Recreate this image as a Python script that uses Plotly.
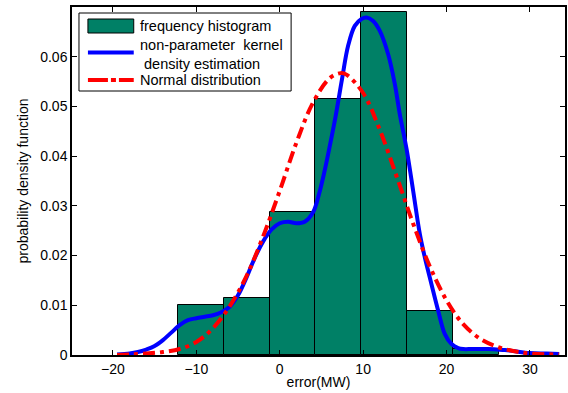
import plotly.graph_objects as go

# Histogram (bin edges and densities)
bin_edges = [-12.2, -6.71, -1.22, 4.27, 9.76, 15.25, 20.74, 26.23]
hist_density = [0.0100, 0.0114, 0.0288, 0.0514, 0.0690, 0.0088, 0.0013]

# Kernel density estimate
kde_x = [-19.5, -18, -17, -16, -15, -14, -13, -12, -11, -10, -9, -8, -7, -6, -5, -4, -3, -2, -1,
         0, 1, 2, 3, 4, 4.7, 5.3, 6, 6.7, 7.5, 8.2, 9, 9.8, 10.4, 11.2, 12, 13, 13.8, 14.4, 15.2,
         16, 16.8, 17.4, 18.2, 19, 19.8, 20.6, 21.4, 22, 23, 24, 25, 26, 27, 28, 30, 32, 33.5]
kde_y = [0.0001, 0.0003, 0.0006, 0.0011, 0.0018, 0.0030, 0.0045, 0.0060, 0.0070, 0.0074, 0.0077,
         0.0080, 0.0086, 0.0097, 0.0120, 0.0155, 0.0195, 0.0228, 0.0252, 0.0265, 0.0268, 0.0265,
         0.0268, 0.0287, 0.0323, 0.0364, 0.0420, 0.0480, 0.0558, 0.0622, 0.0662, 0.0676, 0.0679,
         0.0672, 0.0652, 0.0605, 0.0545, 0.0484, 0.0415, 0.0330, 0.0243, 0.0196, 0.0142, 0.0089,
         0.0042, 0.0022, 0.0014, 0.0012, 0.0012, 0.0012, 0.0012, 0.0011, 0.0010, 0.0008, 0.0004,
         0.0003, 0.0002]

# Normal distribution fit
norm_x = [-19.5, -18, -16, -14, -12, -10, -8, -6, -4, -2, 0, 2, 4, 6, 7.3, 8, 10, 12, 14, 16, 18,
          20, 22, 24, 26, 28, 30, 33.5]
norm_y = [0.0000, 0.0001, 0.0003, 0.0006, 0.0012, 0.0026, 0.0054, 0.0098, 0.0158, 0.0238, 0.0330,
          0.0427, 0.0508, 0.0557, 0.0567, 0.0564, 0.0527, 0.0453, 0.0360, 0.0264, 0.0178, 0.0110,
          0.0062, 0.0033, 0.0017, 0.0008, 0.0003, 0.0001]

x_ticks = [-20, -10, 0, 10, 20, 30]
y_ticks = [0, 0.01, 0.02, 0.03, 0.04, 0.05, 0.06]
y_tick_labels = ["0", "0.01", "0.02", "0.03", "0.04", "0.05", "0.06"]

legend_labels = ["frequency histogram", "non-parameter  kernel<br> density estimation",
                 "Normal distribution"]

HIST_COLOR = "#008066"
KDE_COLOR = "#0000ff"
NORM_COLOR = "#ff0000"
NORM_DASH = "12px,5px,4px,5px"

centers = [(a + b) / 2 for a, b in zip(bin_edges[:-1], bin_edges[1:])]
widths = [b - a for a, b in zip(bin_edges[:-1], bin_edges[1:])]

font = "Liberation Sans, Arial, sans-serif"

W, H = 568, 393
ML, MR, MT, MB = 72, 1, 7, 38
PW, PH = W - ML - MR, H - MT - MB


def px(x):
    return (x - ML) / PW


def py(y):
    return (H - MB - y) / PH


fig = go.Figure()
fig.add_trace(go.Bar(x=centers, y=hist_density, width=widths, name=legend_labels[0],
                     marker=dict(color=HIST_COLOR, line=dict(color="black", width=1))))
fig.add_trace(go.Scatter(x=kde_x, y=kde_y, mode="lines", line_shape="spline",
                         name=legend_labels[1], line=dict(color=KDE_COLOR, width=4)))
fig.add_trace(go.Scatter(x=norm_x, y=norm_y, mode="lines", line_shape="spline",
                         name=legend_labels[2],
                         line=dict(color=NORM_COLOR, width=4, dash=NORM_DASH)))

# Custom legend box (MATLAB-style)
shapes = [
    dict(type="rect", xref="paper", yref="paper", x0=px(79), x1=px(292), y0=py(91), y1=py(13),
         line=dict(color="black", width=1), fillcolor="white", layer="above"),
    dict(type="rect", xref="paper", yref="paper", x0=px(88), x1=px(134), y0=py(33), y1=py(19),
         line=dict(color="black", width=1), fillcolor=HIST_COLOR, layer="above"),
    dict(type="line", xref="paper", yref="paper", x0=px(88), x1=px(134), y0=py(52.5), y1=py(52.5),
         line=dict(color=KDE_COLOR, width=4), layer="above"),
    dict(type="line", xref="paper", yref="paper", x0=px(88), x1=px(134), y0=py(80), y1=py(80),
         line=dict(color=NORM_COLOR, width=4, dash="20px,3px,5px,3px"), layer="above"),
]
annotations = [
    dict(xref="paper", yref="paper", x=px(138), y=py(26), text=legend_labels[0],
         xanchor="left", yanchor="middle", showarrow=False, align="left",
         font=dict(family=font, size=14.5, color="black")),
    dict(xref="paper", yref="paper", x=px(138), y=py(54), text=legend_labels[1],
         xanchor="left", yanchor="middle", showarrow=False, align="left",
         font=dict(family=font, size=14.5, color="black")),
    dict(xref="paper", yref="paper", x=px(138), y=py(80), text=legend_labels[2],
         xanchor="left", yanchor="middle", showarrow=False, align="left",
         font=dict(family=font, size=14.5, color="black")),
]

axis_common = dict(showline=True, linecolor="black", linewidth=1.5, mirror="allticks",
                   ticks="inside", ticklen=5, tickcolor="black", showgrid=False, zeroline=False,
                   tickfont=dict(family=font, size=14, color="black"))

fig.update_layout(
    width=W, height=H,
    margin=dict(l=ML, r=MR, t=MT, b=MB),
    plot_bgcolor="white", paper_bgcolor="white",
    bargap=0,
    showlegend=False,
    shapes=shapes,
    annotations=annotations,
    xaxis=dict(range=[-24.9, 34.2], tickvals=x_ticks,
               title=dict(text="error(MW)", font=dict(family=font, size=14, color="black"), standoff=2),
               **axis_common),
    yaxis=dict(range=[0, 0.07], tickvals=y_ticks, ticktext=y_tick_labels,
               title=dict(text="probability density function", font=dict(family=font, size=14, color="black"), standoff=8),
               **axis_common),
)

fig.write_html("out.html")
